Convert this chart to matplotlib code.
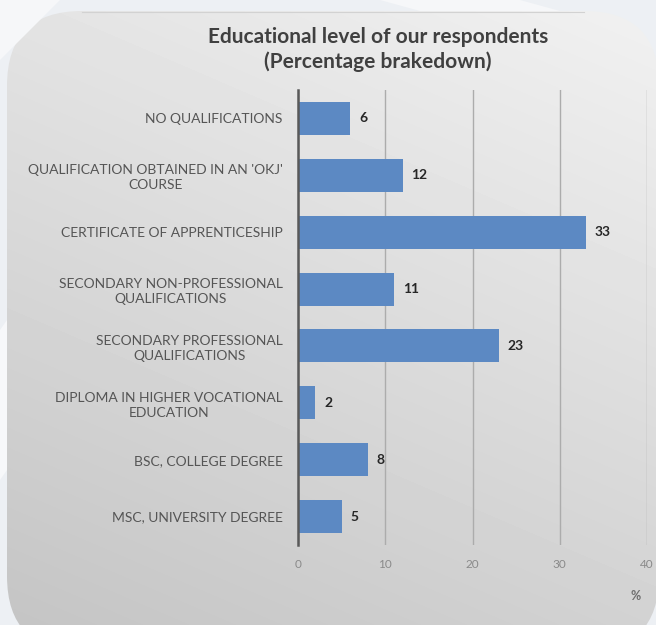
import numpy as np
import matplotlib.pyplot as plt
from matplotlib.patches import FancyBboxPatch, Polygon

plt.rcParams['font.family'] = ['Lato', 'DejaVu Sans']

categories = ['NO QUALIFICATIONS',
              "QUALIFICATION OBTAINED IN AN 'OKJ'\nCOURSE",
              'CERTIFICATE OF APPRENTICESHIP',
              'SECONDARY NON-PROFESSIONAL\nQUALIFICATIONS',
              'SECONDARY PROFESSIONAL\nQUALIFICATIONS',
              'DIPLOMA IN HIGHER VOCATIONAL\nEDUCATION',
              'BSC, COLLEGE DEGREE',
              'MSC, UNIVERSITY DEGREE']
values = [6, 12, 33, 11, 23, 2, 8, 5]
xticks = [0, 10, 20, 30, 40]

W, H = 656, 625
fig = plt.figure(figsize=(W / 100, H / 100), dpi=100)
fig.patch.set_facecolor('#edf0f4')

# background layer in pixel coordinates
bg = fig.add_axes([0, 0, 1, 1])
bg.set_xlim(0, W)
bg.set_ylim(H, 0)
bg.axis('off')

# faint light streaks behind the panel
bg.add_patch(Polygon([[0, 0], [60, 0], [0, 60]], closed=True,
                     facecolor='#f6f7f9', edgecolor='none'))
bg.add_patch(Polygon([[380, 0], [520, 0], [560, 11], [420, 11]], closed=True,
                     facecolor='#f6f7f9', edgecolor='none'))
bg.add_patch(Polygon([[0, 330], [7, 320], [7, 470], [0, 480]], closed=True,
                     facecolor='#f7f8fa', edgecolor='none'))

# rounded grey panel with diagonal gradient
panel = FancyBboxPatch((7, 11), 652, 640, boxstyle='round,pad=0,rounding_size=75',
                       facecolor='none', edgecolor='none')
bg.add_patch(panel)
bg.plot([82, 584], [11.5, 11.5], color='#d2d2d2', lw=0.8)
gx, gy = np.meshgrid(np.linspace(0, 1, 200), np.linspace(0, 1, 200))
t = (gy * 0.8 + (1 - gx) * 0.35) / 1.15
shade = 0.945 - 0.18 * t
img = bg.imshow(shade, cmap='gray', vmin=0, vmax=1, extent=[7, 659, 651, 11],
                interpolation='bilinear', aspect='auto', zorder=0)
img.set_clip_path(panel)

# bar chart
ax = fig.add_axes([298 / W, 1 - 545 / H, (647 - 298) / W, (545 - 90) / H])
ax.patch.set_alpha(0)
y = np.arange(len(categories))
ax.barh(y, values, height=0.58, color='#5c89c3', zorder=3)
for yi, v in zip(y, values):
    ax.text(v + 1.0, yi, str(v), va='center', ha='left', fontsize=10,
            fontweight='bold', color='#262626')

ax.set_xlim(0, 40)
ax.set_ylim(len(categories) - 0.5, -0.5)
ax.set_xticks(xticks)
ax.set_xticklabels([str(x) for x in xticks], fontsize=8.5, color='#8a8a8a')
ax.set_yticks(y)
ax.set_yticklabels(categories, fontsize=10, color='#555555')
for lab in ax.get_yticklabels():
    lab.set_multialignment('center')
    lab.set_linespacing(1.3)
ax.tick_params(axis='both', length=0)
ax.tick_params(axis='y', pad=11)
ax.tick_params(axis='x', pad=10)
ax.grid(axis='x', color='#acacac', lw=1.0, zorder=1)
for s in ['top', 'right', 'bottom']:
    ax.spines[s].set_visible(False)
ax.spines['left'].set_color('#595959')
ax.spines['left'].set_linewidth(1.8)
ax.spines['left'].set_zorder(4)

fig.text(636 / W, 1 - 596 / H, '%', ha='center', va='center', fontsize=9,
         fontweight='bold', color='#6e6e6e')
fig.text(378 / W, 1 - 37 / H, 'Educational level of our respondents',
         ha='center', va='center', fontsize=15, fontweight='bold', color='#404040')
fig.text(378 / W, 1 - 62 / H, '(Percentage brakedown)',
         ha='center', va='center', fontsize=15, fontweight='bold', color='#404040')

fig.savefig('out.png', dpi=100, facecolor=fig.get_facecolor())
